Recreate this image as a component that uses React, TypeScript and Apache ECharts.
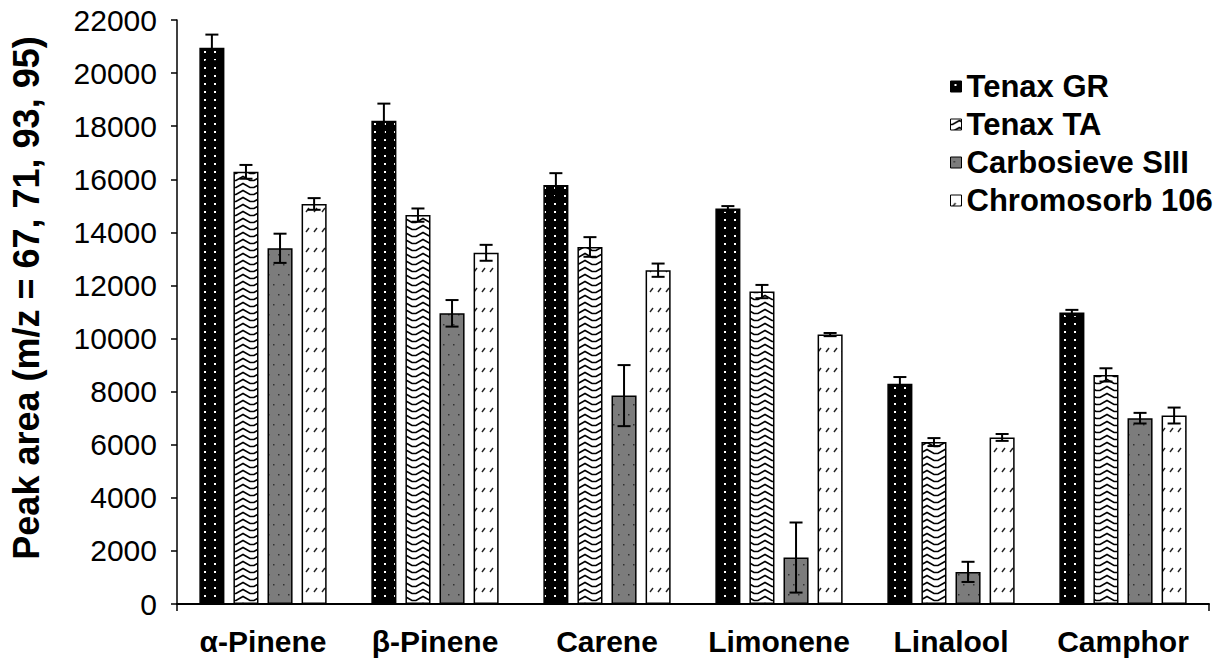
import React, { useEffect, useRef } from "react";
import * as echarts from "echarts";

const categories = ["α-Pinene", "β-Pinene", "Carene", "Limonene", "Linalool", "Camphor"];
const seriesNames = ["Tenax GR", "Tenax TA", "Carbosieve SIII", "Chromosorb 106"];
const tenaxGR = [20950, 18200, 15780, 14900, 8300, 10980];
const tenaxGRErr = [500, 650, 450, 90, 250, 100];
const tenaxTA = [16280, 14650, 13450, 11770, 6100, 8630];
const tenaxTAErr = [260, 250, 370, 250, 150, 250];
const carbosieve = [13400, 10950, 7850, 1750, 1210, 7000];
const carbosieveErr = [550, 500, 1150, 1320, 380, 200];
const chromosorb = [15070, 13230, 12575, 10150, 6275, 7100];
const chromosorbErr = [220, 300, 250, 60, 130, 300];
const yTicks = { min: 0, max: 22000, interval: 2000 };

const allValues = [tenaxGR, tenaxTA, carbosieve, chromosorb];
const allErrs = [tenaxGRErr, tenaxTAErr, carbosieveErr, chromosorbErr];

const FONT = "'Liberation Sans', Arial, Helvetica, sans-serif";
const BAR_CAT_GAP = 0.26;
const BAR_GAP = 0.36;

function makePattern(kind: number) {
  const c = document.createElement("canvas");
  let w = 10;
  let h = 8;
  if (kind === 1) { w = 18; h = 7; }
  if (kind === 2) { w = 10; h = 20; }
  if (kind === 3) { w = 8; h = 20; }
  c.width = w;
  c.height = h;
  const g = c.getContext("2d")!;
  if (kind === 0) {
    g.fillStyle = "#000";
    g.fillRect(0, 0, w, h);
    g.fillStyle = "#fff";
    g.fillRect(4, 3, 2, 2);
  } else if (kind === 1) {
    g.fillStyle = "#fff";
    g.fillRect(0, 0, w, h);
    g.strokeStyle = "#000";
    g.lineWidth = 1.6;
    g.beginPath();
    g.moveTo(-1, 5.5);
    g.lineTo(2, 5.5);
    g.lineTo(9, 1.5);
    g.lineTo(16, 5.5);
    g.lineTo(19, 5.5);
    g.stroke();
  } else if (kind === 2) {
    g.fillStyle = "#7c7c7c";
    g.fillRect(0, 0, w, h);
    g.fillStyle = "#333";
    g.fillRect(3, 4, 1.5, 1.5);
    g.fillRect(8, 14, 1.5, 1.5);
  } else {
    g.fillStyle = "#fff";
    g.fillRect(0, 0, w, h);
    g.strokeStyle = "#222";
    g.lineWidth = 1.4;
    g.beginPath();
    g.moveTo(2, 12);
    g.lineTo(5, 8);
    g.stroke();
  }
  return { image: c, repeat: "repeat", imageWidth: w, imageHeight: h } as any;
}

export default function App() {
  const ref = useRef<HTMLDivElement>(null);
  useEffect(() => {
    if (!ref.current) return;
    const chart = echarts.init(ref.current, undefined, { renderer: "svg" });
    const patterns = [0, 1, 2, 3].map(makePattern);

    const barSeries = seriesNames.map((name, si) => ({
      name,
      type: "bar",
      data: allValues[si],
      barCategoryGap: `${BAR_CAT_GAP * 100}%`,
      barGap: `${BAR_GAP * 100}%`,
      itemStyle: {
        color: patterns[si],
        borderColor: "#000",
        borderWidth: 1.5,
      },
      emphasis: { disabled: true },
    }));

    const errSeries = seriesNames.map((name, si) => ({
      name: name + " error",
      type: "custom",
      z: 10,
      silent: true,
      data: allValues[si].map((v, i) => [i, v, allErrs[si][i]]),
      encode: { x: 0, y: 1 },
      renderItem: (params: any, api: any) => {
        const ci = api.value(0);
        const v = api.value(1);
        const e = api.value(2);
        const band = api.size([1, 0])[0];
        const bw = (band * (1 - BAR_CAT_GAP)) / (4 + 3 * BAR_GAP);
        const pitch = bw * (1 + BAR_GAP);
        const off = (si - 1.5) * pitch;
        const top = api.coord([ci, v + e]);
        const bot = api.coord([ci, v - e]);
        const x = top[0] + off;
        const hw = 6.5;
        const style = { stroke: "#000", lineWidth: 2 };
        return {
          type: "group",
          children: [
            { type: "line", shape: { x1: x, y1: top[1], x2: x, y2: bot[1] }, style },
            { type: "line", shape: { x1: x - hw, y1: top[1], x2: x + hw, y2: top[1] }, style },
            { type: "line", shape: { x1: x - hw, y1: bot[1], x2: x + hw, y2: bot[1] }, style },
          ],
        };
      },
    }));

    chart.setOption({
      animation: false,
      backgroundColor: "#fff",
      textStyle: { fontFamily: FONT },
      grid: { left: 177, right: 8, top: 20, bottom: 60, containLabel: false },
      legend: {
        data: seriesNames,
        orient: "vertical",
        left: 945,
        top: 66,
        itemWidth: 11,
        itemHeight: 11,
        itemGap: 7,
        icon: "rect",
        itemStyle: { borderColor: "#000", borderWidth: 1 },
        textStyle: { fontSize: 31, fontWeight: "bold", color: "#000", fontFamily: FONT, lineHeight: 30 },
        selectedMode: false,
      },
      xAxis: {
        type: "category",
        data: categories,
        axisLine: { lineStyle: { color: "#000", width: 2 } },
        axisTick: { show: true, interval: (i: number) => i === 0, length: 7, lineStyle: { color: "#000", width: 1.5 } },
        axisLabel: { interval: 0, fontSize: 30, fontWeight: "bold", color: "#000", margin: 22, fontFamily: FONT },
      },
      yAxis: {
        type: "value",
        min: yTicks.min,
        max: yTicks.max,
        interval: yTicks.interval,
        name: "Peak area (m/z = 67, 71, 93, 95)",
        nameLocation: "middle",
        nameRotate: 90,
        nameGap: 133,
        nameTextStyle: { fontSize: 36, fontWeight: "bold", color: "#000", fontFamily: FONT, padding: [0, 0, 0, 28] },
        axisLine: { show: true, lineStyle: { color: "#000", width: 1.5 } },
        axisTick: { show: true, length: 6, lineStyle: { color: "#000", width: 1.5 } },
        axisLabel: { fontSize: 30, color: "#000", margin: 20, fontFamily: FONT, formatter: (v: number) => String(v) },
        splitLine: { show: false },
      },
      series: [...barSeries, ...errSeries],
    });
    return () => chart.dispose();
  }, []);
  return (
    <div
      ref={ref}
      style={{ position: "fixed", left: 0, top: 0, width: 1217, height: 664, background: "#fff" }}
    />
  );
}
